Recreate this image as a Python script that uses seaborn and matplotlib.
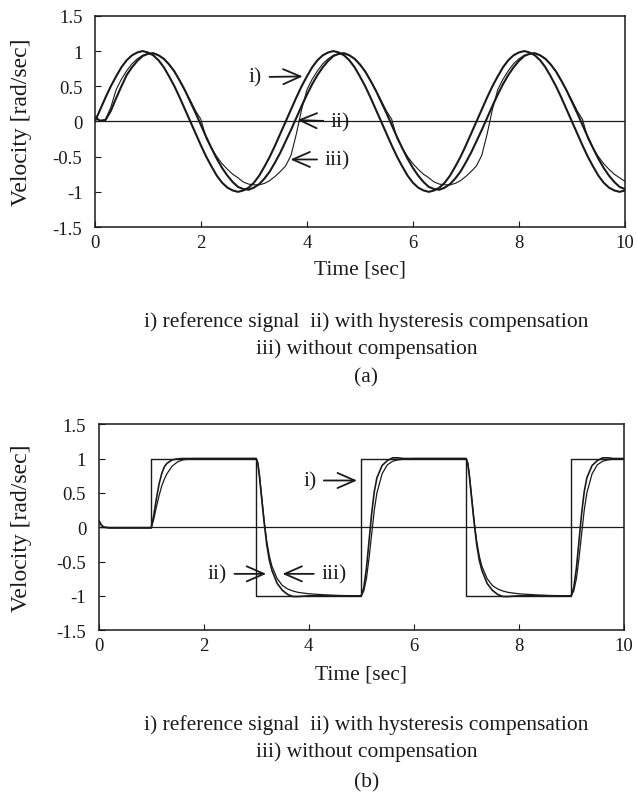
import numpy as np
import pandas as pd
import matplotlib
matplotlib.use("Agg")
import matplotlib.pyplot as plt
import seaborn as sns

sns.set_theme(style="white")
plt.rcParams['font.family'] = ['Liberation Serif', 'DejaVu Serif']

# ---- (a) sinusoidal reference, sampled every 0.1 s ----
time_a = np.linspace(0, 10, 101)
ref_a = [0.00, 0.17, 0.34, 0.50, 0.64, 0.77, 0.87, 0.94, 0.98, 1.00, 0.98, 0.94, 0.87, 0.77, 0.64, 0.50, 0.34, 0.17,
         0.00, -0.17, -0.34, -0.50, -0.64, -0.77, -0.87, -0.94, -0.98, -1.00, -0.98, -0.94, -0.87, -0.77, -0.64, -0.50, -0.34, -0.17,
         0.00, 0.17, 0.34, 0.50, 0.64, 0.77, 0.87, 0.94, 0.98, 1.00, 0.98, 0.94, 0.87, 0.77, 0.64, 0.50, 0.34, 0.17,
         0.00, -0.17, -0.34, -0.50, -0.64, -0.77, -0.87, -0.94, -0.98, -1.00, -0.98, -0.94, -0.87, -0.77, -0.64, -0.50, -0.34, -0.17,
         0.00, 0.17, 0.34, 0.50, 0.64, 0.77, 0.87, 0.94, 0.98, 1.00, 0.98, 0.94, 0.87, 0.77, 0.64, 0.50, 0.34, 0.17,
         0.00, -0.17, -0.34, -0.50, -0.64, -0.77, -0.87, -0.94, -0.98, -1.00, -0.98]
comp_a = [0.06, 0.01, 0.02, 0.15, 0.33, 0.50,
          0.66, 0.77, 0.86, 0.93, 0.96, 0.97, 0.94, 0.89, 0.81, 0.71, 0.58, 0.44,
          0.28, 0.12, -0.05, -0.22, -0.38, -0.53, -0.66, -0.77, -0.86, -0.93, -0.96, -0.97, -0.94, -0.89, -0.81, -0.71, -0.58, -0.44,
          -0.28, -0.12, 0.05, 0.22, 0.38, 0.53, 0.66, 0.77, 0.86, 0.93, 0.96, 0.97, 0.94, 0.89, 0.81, 0.71, 0.58, 0.44,
          0.28, 0.12, -0.05, -0.22, -0.38, -0.53, -0.66, -0.77, -0.86, -0.93, -0.96, -0.97, -0.94, -0.89, -0.81, -0.71, -0.58, -0.44,
          -0.28, -0.12, 0.05, 0.22, 0.38, 0.53, 0.66, 0.77, 0.86, 0.93, 0.96, 0.97, 0.94, 0.89, 0.81, 0.71, 0.58, 0.44,
          0.28, 0.12, -0.05, -0.22, -0.38, -0.53, -0.66, -0.77, -0.86, -0.93, -0.96]
nocomp_a = [0.05, 0.01, 0.03, 0.20,
            0.45, 0.60, 0.72, 0.82, 0.89, 0.94, 0.96, 0.97, 0.94, 0.89, 0.81, 0.71, 0.58, 0.44,
            0.30, 0.15, 0.03, -0.24, -0.38, -0.50, -0.60, -0.68, -0.75, -0.80, -0.86, -0.89, -0.90, -0.90, -0.88, -0.84, -0.78, -0.71,
            -0.63, -0.48, -0.18, 0.17, 0.45, 0.60, 0.72, 0.82, 0.89, 0.94, 0.96, 0.97, 0.94, 0.89, 0.81, 0.71, 0.58, 0.44,
            0.30, 0.15, 0.03, -0.24, -0.38, -0.50, -0.60, -0.68, -0.75, -0.80, -0.86, -0.89, -0.90, -0.90, -0.88, -0.84, -0.78, -0.71,
            -0.63, -0.48, -0.18, 0.17, 0.45, 0.60, 0.72, 0.82, 0.89, 0.94, 0.96, 0.97, 0.94, 0.89, 0.81, 0.71, 0.58, 0.44,
            0.30, 0.15, 0.03, -0.24, -0.38, -0.50, -0.60, -0.68, -0.75, -0.80, -0.85]

# ---- (b) square-wave reference ----
ref_b_time = [0, 1, 1, 3, 3, 5, 5, 7, 7, 9, 9, 10]
ref_b = [0, 0, 1, 1, -1, -1, 1, 1, -1, -1, 1, 1]
time_b = [0, 0.05, 0.1, 0.2, 0.5, 1.0,
          1.05, 1.1, 1.15, 1.2, 1.25, 1.3, 1.4, 1.5, 1.6, 1.8, 2.0, 2.5, 3.0,
          3.03, 3.06, 3.1, 3.15, 3.2, 3.25, 3.3, 3.4, 3.5, 3.6, 3.7, 3.8, 4.0, 4.3, 4.6, 5.0,
          5.05, 5.1, 5.15, 5.2, 5.25, 5.3, 5.4, 5.5, 5.6, 5.7, 5.8, 6.0, 6.5, 7.0,
          7.03, 7.06, 7.1, 7.15, 7.2, 7.25, 7.3, 7.4, 7.5, 7.6, 7.7, 7.8, 8.0, 8.3, 8.6, 9.0,
          9.05, 9.1, 9.15, 9.2, 9.25, 9.3, 9.4, 9.5, 9.6, 9.7, 9.8, 10.0]
comp_b = [0.10, 0.03, 0.0, -0.01, -0.01, -0.01,
          0.18, 0.42, 0.63, 0.78, 0.88, 0.93, 0.98, 0.995, 1.0, 1.0, 1.0, 1.0, 1.0,
          0.93, 0.75, 0.45, 0.08, -0.25, -0.48, -0.63, -0.82, -0.92, -0.98, -1.01, -1.01, -1.0, -1.0, -1.0, -1.0,
          -0.88, -0.60, -0.20, 0.20, 0.52, 0.72, 0.90, 0.97, 1.01, 1.01, 1.0, 1.0, 1.0, 1.0,
          0.93, 0.75, 0.45, 0.08, -0.25, -0.48, -0.63, -0.82, -0.92, -0.98, -1.01, -1.01, -1.0, -1.0, -1.0, -1.0,
          -0.88, -0.60, -0.20, 0.20, 0.52, 0.72, 0.90, 0.97, 1.01, 1.01, 1.0, 1.0]
nocomp_b = [0.10, 0.03, 0.0, -0.01, -0.01, -0.01,
            0.12, 0.30, 0.46, 0.60, 0.70, 0.78, 0.89, 0.95, 0.98, 1.0, 1.0, 1.0, 1.0,
            0.94, 0.78, 0.48, 0.10, -0.20, -0.42, -0.57, -0.75, -0.85, -0.90, -0.93, -0.95, -0.97, -0.985, -0.995, -1.0,
            -0.93, -0.75, -0.45, -0.10, 0.25, 0.50, 0.78, 0.91, 0.96, 0.98, 0.99, 1.0, 1.0, 1.0,
            0.94, 0.78, 0.48, 0.10, -0.20, -0.42, -0.57, -0.75, -0.85, -0.90, -0.93, -0.95, -0.97, -0.985, -0.995, -1.0,
            -0.93, -0.75, -0.45, -0.10, 0.25, 0.50, 0.78, 0.91, 0.96, 0.98, 0.99, 1.0]

x_ticks = [0, 2, 4, 6, 8, 10]
y_ticks = [-1.5, -1, -0.5, 0, 0.5, 1, 1.5]
y_ticklabels = ['-1.5', '-1', '-0.5', '0', '0.5', '1', '1.5']
caption_1 = 'i) reference signal  ii) with hysteresis compensation'
caption_2 = 'iii) without compensation'

INK = '#1a1a1a'

fig = plt.figure(figsize=(6.37, 8.03), dpi=100)
ax_a = fig.add_axes([0.149, 0.716, 0.832, 0.263])
ax_b = fig.add_axes([0.155, 0.214, 0.824, 0.2565])


def line(ax, x, y, lw):
    sns.lineplot(x=x, y=y, ax=ax, sort=False, estimator=None, color=INK, linewidth=lw)


def style_axes(ax, ylab_x, xlab_y):
    ax.axhline(0, color=INK, lw=0.9, zorder=1)
    ax.set_xlim(0, 10)
    ax.set_ylim(-1.5, 1.5)
    ax.set_xticks(x_ticks)
    ax.set_xticklabels([str(v) for v in x_ticks])
    ax.set_yticks(y_ticks)
    ax.set_yticklabels(y_ticklabels)
    ax.tick_params(direction='in', length=4, width=0.8, colors=INK, labelsize=13.5,
                   bottom=True, left=True, top=False, right=False)
    ax.tick_params(axis='y', pad=9)
    ax.tick_params(axis='x', pad=5)
    for sp in ax.spines.values():
        sp.set_color(INK)
        sp.set_linewidth(1.1)
    ax.set_xlabel('Time [sec]', fontsize=15.5, color=INK)
    ax.set_ylabel('Velocity [rad/sec]', fontsize=17, color=INK)
    ax.yaxis.set_label_coords(ylab_x, 0.5)
    ax.xaxis.set_label_coords(0.5, xlab_y)


def arrow(ax, label, tip, text_pos):
    ax.annotate(label, xy=tip, xytext=text_pos, ha='center', va='center', fontsize=15.5, color=INK,
                arrowprops=dict(arrowstyle='->,head_length=0.8,head_width=0.35', color=INK, lw=1.3,
                                shrinkA=3, shrinkB=0))


# panel (a)
line(ax_a, time_a, ref_a, 1.5)
line(ax_a, time_a, comp_a, 1.5)
line(ax_a, time_a, nocomp_a, 0.8)
style_axes(ax_a, -0.118, -0.155)
arrow(ax_a, 'i)', (3.92, 0.64), (3.03, 0.63))
arrow(ax_a, 'ii)', (3.82, 0.02), (4.63, 0.0))
arrow(ax_a, 'iii)', (3.69, -0.54), (4.57, -0.54))

# panel (b)
line(ax_b, ref_b_time, ref_b, 1.0)
line(ax_b, time_b, comp_b, 1.2)
line(ax_b, time_b, nocomp_b, 0.9)
style_axes(ax_b, -0.128, -0.165)
arrow(ax_b, 'i)', (4.92, 0.68), (4.02, 0.68))
arrow(ax_b, 'ii)', (3.19, -0.68), (2.26, -0.68))
arrow(ax_b, 'iii)', (3.50, -0.68), (4.48, -0.68))

# captions
cx = 0.575
for y, txt in [(0.599, caption_1), (0.565, caption_2), (0.529, '(a)'),
               (0.097, caption_1), (0.0635, caption_2), (0.025, '(b)')]:
    fig.text(cx, y, txt, ha='center', va='center', fontsize=15.5, color=INK)

fig.savefig('out.png', dpi=100)
